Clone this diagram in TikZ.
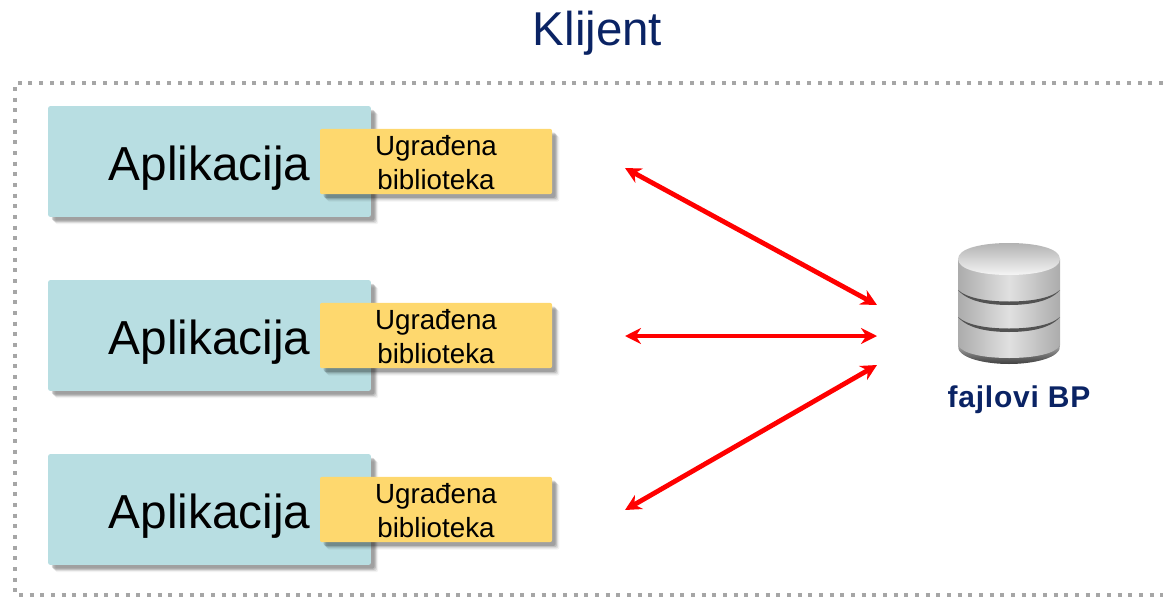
\documentclass[tikz,border=0pt]{standalone}
\usepackage{fontspec}
\setmainfont{Liberation Sans}
\usetikzlibrary{shadows,arrows.meta}

\definecolor{appfill}{RGB}{184,222,226}
\definecolor{libfill}{RGB}{254,216,110}
\definecolor{navytext}{RGB}{10,35,100}
\definecolor{framegray}{RGB}{166,166,166}
\definecolor{dbside}{RGB}{224,224,224}
\definecolor{dbedge}{RGB}{172,172,172}

\tikzset{every picture/.style={line width=0.75pt}}
\tikzset{softshadow/.style={
  drop shadow={shadow xshift=5.5pt,shadow yshift=-5.5pt,opacity=0.05,fill=black},
  drop shadow={shadow xshift=4.6pt,shadow yshift=-4.6pt,opacity=0.09,fill=black},
  drop shadow={shadow xshift=3.7pt,shadow yshift=-3.7pt,opacity=0.13,fill=black},
  drop shadow={shadow xshift=2.8pt,shadow yshift=-2.8pt,opacity=0.17,fill=black}}}
\tikzset{appbox/.style={fill=appfill,rounded corners=1.5pt,minimum width=242pt,minimum height=83pt,inner sep=0pt,text depth=0pt,font=\fontsize{35.8}{40}\selectfont,softshadow}}
\tikzset{libbox/.style={fill=libfill,rounded corners=1.5pt,minimum width=174pt,minimum height=49pt,inner sep=0pt,align=center,font=\fontsize{20.8}{25.5}\selectfont,softshadow}}
\tikzset{dbarrow/.style={draw=red,line width=3.6pt,{Stealth[length=12pt,width=12pt]}-{Stealth[length=12pt,width=12pt]}}}
\tikzset{dbgroove/.style={fill=black!68}}

\begin{document}
\begin{tikzpicture}[x=0.75pt,y=0.75pt,yscale=-1,xscale=1]
\useasboundingbox (0,0) rectangle (1163,596);

% Title
\node[text=navytext,font=\fontsize{35.6}{38}\selectfont] (title) at (597.5,33) {Klijent};

%Shape: dotted frame, open on the right
\draw[framegray,line width=3pt,dash pattern=on 3pt off 5pt] (1163,83) -- (15,83) -- (15,595) -- (1163,595);

% Application boxes
\node[appbox,text height=29pt] (app1) at (209.5,161.5) {Aplikacija};
\node[appbox,text height=29pt] (app2) at (209.5,335.5) {Aplikacija};
\node[appbox,text height=29pt] (app3) at (209.5,509.5) {Aplikacija};

% Library boxes
\node[libbox] (lib1) at (436,161.5) {\rule{0pt}{17pt}Ugrađena\\biblioteka};
\node[libbox] (lib2) at (436,335.5) {\rule{0pt}{17pt}Ugrađena\\biblioteka};
\node[libbox] (lib3) at (436,509.5) {\rule{0pt}{17pt}Ugrađena\\biblioteka};

%Shape: database cylinder
\shade[top color=black!35,bottom color=black!75] (958,345) .. controls (956,358) and (985,364) .. (1009,364) .. controls (1033,364) and (1062,358) .. (1060,345) -- cycle;
\shade[left color=dbedge,right color=dbedge,middle color=dbside] (958,259) -- (958,345) .. controls (962,354) and (985,358) .. (1009,358) .. controls (1033,358) and (1056,354) .. (1060,345) -- (1060,259) -- cycle;
\shade[top color=black!30,bottom color=black!4] (958,259) .. controls (958,248) and (983,243) .. (1009,243) .. controls (1035,243) and (1060,248) .. (1060,259) .. controls (1060,270) and (1035,275) .. (1009,275) .. controls (983,275) and (958,270) .. (958,259) -- cycle;
\fill[dbgroove] (958,290) .. controls (968,299) and (990,301.5) .. (1009,301.5) .. controls (1028,301.5) and (1050,299) .. (1060,290) .. controls (1050,302) and (1028,305) .. (1009,305) .. controls (990,305) and (968,302) .. (958,290) -- cycle;
\fill[dbgroove] (958,317) .. controls (968,326) and (990,328.5) .. (1009,328.5) .. controls (1028,328.5) and (1050,326) .. (1060,317) .. controls (1050,329) and (1028,332) .. (1009,332) .. controls (990,332) and (968,329) .. (958,317) -- cycle;

% Text Node
\node[text=navytext,font=\bfseries\fontsize{22.5}{26}\selectfont\addfontfeature{LetterSpace=2.5}] (dblabel) at (1019,400) {fajlovi BP};

% Arrow ends
\coordinate (a1) at (625,168);
\coordinate (a2) at (625,336);
\coordinate (a3) at (625,510);
\coordinate (d1) at (877,305);
\coordinate (d2) at (877,336);
\coordinate (d3) at (877,365);

\draw[dbarrow] (a1) -- (d1);
\draw[dbarrow] (a2) -- (d2);
\draw[dbarrow] (a3) -- (d3);

\end{tikzpicture}
\end{document}
